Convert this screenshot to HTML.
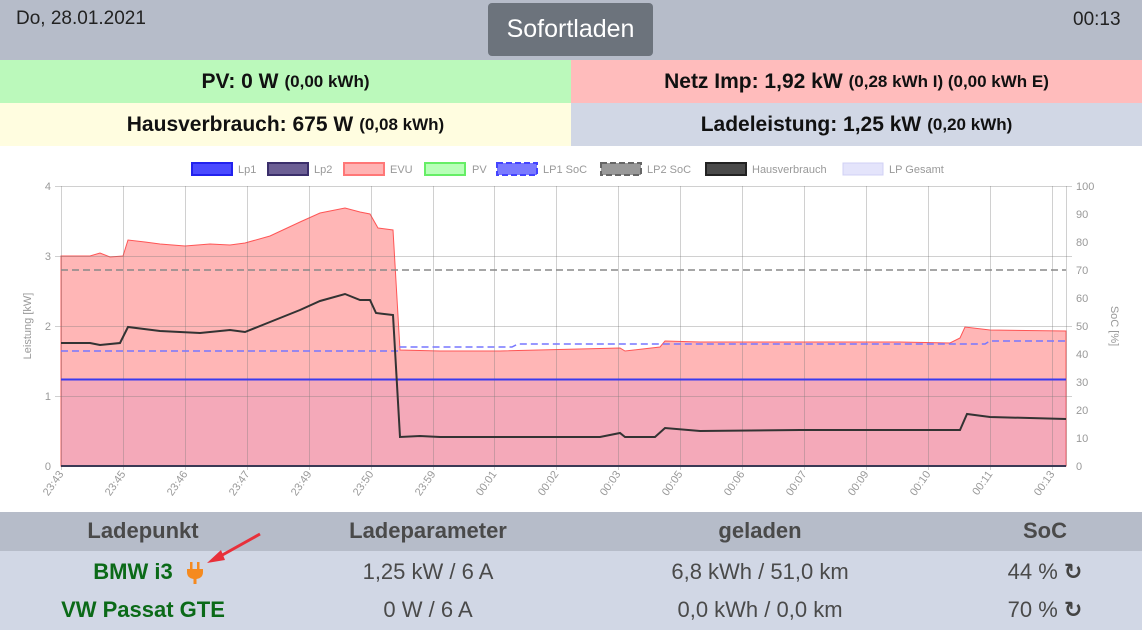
<!DOCTYPE html>
<html><head><meta charset="utf-8"><style>
body{margin:0;width:1142px;height:630px;overflow:hidden;font-family:"Liberation Sans","DejaVu Sans",sans-serif;background:#fff;position:relative}
.a{position:absolute;box-sizing:border-box}
.c{display:flex;align-items:center;justify-content:center;font-weight:bold;font-size:21px;color:#111}
.c small{font-size:17px;margin-left:6px}
.t{position:absolute;text-align:center;font-size:22px;color:#4a4a4a;transform:translateX(-50%);white-space:nowrap}
</style></head><body>
<div class="a" style="left:0;top:0;width:1142px;height:60px;background:#b6bcc9"></div>
<div class="a" style="left:16px;top:8px;font-size:19px;color:#222">Do, 28.01.2021</div>
<div class="a" style="left:1073px;top:9px;font-size:19px;color:#222">00:13</div>
<div class="a" style="left:488px;top:3px;width:165px;height:53px;background:#6c737c;border-radius:4px;color:#fff;font-size:25px;display:flex;align-items:center;justify-content:center">Sofortladen</div>
<div class="a c" style="left:0;top:60px;width:571px;height:43px;background:#bbf9bb">PV: 0 W<small>(0,00 kWh)</small></div>
<div class="a c" style="left:571px;top:60px;width:571px;height:43px;background:#ffbcbc">Netz Imp: 1,92 kW<small>(0,28 kWh I) (0,00 kWh E)</small></div>
<div class="a c" style="left:0;top:103px;width:571px;height:43px;background:#fffde0">Hausverbrauch: 675 W<small>(0,08 kWh)</small></div>
<div class="a c" style="left:571px;top:103px;width:571px;height:43px;background:#d1d7e5">Ladeleistung: 1,25 kW<small>(0,20 kWh)</small></div>

<svg class="a" style="left:0;top:146px" width="1142" height="366" viewBox="0 146 1142 366" font-family="Liberation Sans, sans-serif">
<g font-size="11" fill="#999">
<rect x="192" y="163" width="40" height="12" fill="#4a4aff" stroke="#2222ee" stroke-width="2"/><text x="238" y="173">Lp1</text>
<rect x="268" y="163" width="40" height="12" fill="#6c5f94" stroke="#3b2f6b" stroke-width="2"/><text x="314" y="173">Lp2</text>
<rect x="344" y="163" width="40" height="12" fill="#ffb3b3" stroke="#ff7777" stroke-width="2"/><text x="390" y="173">EVU</text>
<rect x="425" y="163" width="40" height="12" fill="#b8ffb8" stroke="#66ee66" stroke-width="2"/><text x="472" y="173">PV</text>
<rect x="497" y="163" width="40" height="12" fill="#7a7aff" stroke="#4444ff" stroke-width="2" stroke-dasharray="6,3"/><text x="543" y="173">LP1 SoC</text>
<rect x="601" y="163" width="40" height="12" fill="#999" stroke="#666" stroke-width="2" stroke-dasharray="6,3"/><text x="647" y="173">LP2 SoC</text>
<rect x="706" y="163" width="40" height="12" fill="#4a4a4a" stroke="#222" stroke-width="2"/><text x="752" y="173">Hausverbrauch</text>
<rect x="843" y="163" width="40" height="12" fill="#e4e4fb" stroke="#d0d0f5" stroke-width="1"/><text x="889" y="173">LP Gesamt</text>
</g>
<polygon fill="rgba(255,110,110,0.5)" stroke="#ff5555" stroke-width="1" points="61,466 61,256 90,256 100,253 110,257 123,256 128,240 145,242 160,244 185,246 210,244 230,245 245,243 270,236 300,222 320,213 345,208 360,212 370,214 378,228 393,230 400,350 440,351 500,351 620,348 625,351 660,347 665,341 700,342 800,342 900,342 950,343 960,338 965,327 990,330 1066,331 1066,466"/>
<rect x="61" y="379" width="1005" height="87" fill="rgba(200,120,200,0.2)"/>
<g stroke="rgba(120,120,120,0.35)" stroke-width="1">
<line x1="55" y1="186.5" x2="1072" y2="186.5"/><line x1="55" y1="256.5" x2="1072" y2="256.5"/><line x1="55" y1="326.5" x2="1072" y2="326.5"/><line x1="55" y1="396.5" x2="1072" y2="396.5"/>
<line x1="61.5" y1="186" x2="61.5" y2="470"/><line x1="123.5" y1="186" x2="123.5" y2="470"/><line x1="185.5" y1="186" x2="185.5" y2="470"/><line x1="247.5" y1="186" x2="247.5" y2="470"/><line x1="309.5" y1="186" x2="309.5" y2="470"/><line x1="371.5" y1="186" x2="371.5" y2="470"/><line x1="433.5" y1="186" x2="433.5" y2="470"/><line x1="494.5" y1="186" x2="494.5" y2="470"/><line x1="556.5" y1="186" x2="556.5" y2="470"/><line x1="618.5" y1="186" x2="618.5" y2="470"/><line x1="680.5" y1="186" x2="680.5" y2="470"/><line x1="742.5" y1="186" x2="742.5" y2="470"/><line x1="804.5" y1="186" x2="804.5" y2="470"/><line x1="866.5" y1="186" x2="866.5" y2="470"/><line x1="928.5" y1="186" x2="928.5" y2="470"/><line x1="990.5" y1="186" x2="990.5" y2="470"/><line x1="1052.5" y1="186" x2="1052.5" y2="470"/><line x1="1066.5" y1="186" x2="1066.5" y2="466"/>
</g>
<line x1="61" y1="379.5" x2="1066" y2="379.5" stroke="#3a3aee" stroke-width="2"/>
<line x1="61" y1="466" x2="1066" y2="466" stroke="#3b3a55" stroke-width="2"/>
<polyline fill="none" stroke="#7777ff" stroke-width="1.5" stroke-dasharray="7,4" points="61,351 398,351 400,347 512,347 518,344 985,344 990,341 1066,341"/>
<line x1="61" y1="270" x2="1066" y2="270" stroke="#888" stroke-width="1.5" stroke-dasharray="7,4"/>
<polyline fill="none" stroke="#333" stroke-width="2" points="61,343 90,343 100,345 120,343 128,327 160,331 200,333 230,330 245,332 270,322 300,310 320,301 345,294 360,300 370,300 376,313 393,315 400,437 420,436 440,437 500,437 600,437 620,433 625,437 655,437 665,428 700,431 800,430 900,430 950,430 960,430 967,414 990,417 1066,419"/>
<g font-size="11" fill="#999" text-anchor="end">
<text x="51" y="190">4</text><text x="51" y="260">3</text><text x="51" y="330">2</text><text x="51" y="400">1</text><text x="51" y="470">0</text>
</g>
<g font-size="11" fill="#999">
<text x="1076" y="190">100</text><text x="1076" y="218">90</text><text x="1076" y="246">80</text><text x="1076" y="274">70</text><text x="1076" y="302">60</text><text x="1076" y="330">50</text><text x="1076" y="358">40</text><text x="1076" y="386">30</text><text x="1076" y="414">20</text><text x="1076" y="442">10</text><text x="1076" y="470">0</text>
</g>
<text transform="translate(31,326) rotate(-90)" font-size="11" fill="#999" text-anchor="middle">Leistung [kW]</text>
<text transform="translate(1111,326) rotate(90)" font-size="11" fill="#999" text-anchor="middle">SoC [%]</text>
<g font-size="11" fill="#999" text-anchor="end">
<text transform="translate(64,474) rotate(-55)">23:43</text><text transform="translate(126,474) rotate(-55)">23:45</text><text transform="translate(188,474) rotate(-55)">23:46</text><text transform="translate(250,474) rotate(-55)">23:47</text><text transform="translate(312,474) rotate(-55)">23:49</text><text transform="translate(374,474) rotate(-55)">23:50</text><text transform="translate(436,474) rotate(-55)">23:59</text><text transform="translate(497,474) rotate(-55)">00:01</text><text transform="translate(559,474) rotate(-55)">00:02</text><text transform="translate(621,474) rotate(-55)">00:03</text><text transform="translate(683,474) rotate(-55)">00:05</text><text transform="translate(745,474) rotate(-55)">00:06</text><text transform="translate(807,474) rotate(-55)">00:07</text><text transform="translate(869,474) rotate(-55)">00:09</text><text transform="translate(931,474) rotate(-55)">00:10</text><text transform="translate(993,474) rotate(-55)">00:11</text><text transform="translate(1055,474) rotate(-55)">00:13</text>
</g>
</svg>

<div class="a" style="left:0;top:512px;width:1142px;height:39px;background:#b6bcc9"></div>
<div class="a" style="left:0;top:551px;width:1142px;height:79px;background:#d1d7e5"></div>
<div class="t" style="left:143px;top:518px;font-weight:bold">Ladepunkt</div>
<div class="t" style="left:428px;top:518px;font-weight:bold">Ladeparameter</div>
<div class="t" style="left:760px;top:518px;font-weight:bold">geladen</div>
<div class="t" style="left:1045px;top:518px;font-weight:bold">SoC</div>
<div class="t" style="left:133px;top:559px;font-weight:bold;color:#0b6a18">BMW i3</div>
<svg class="a" style="left:186px;top:561px" width="18" height="24"><rect x="4" y="1" width="2.5" height="7" fill="#f58a1f"/><rect x="11" y="1" width="2.5" height="7" fill="#f58a1f"/><path d="M1,8 H17 V11 Q17,17 10.5,18 V23 H7.5 V18 Q1,17 1,11 Z" fill="#f58a1f"/></svg>
<div class="t" style="left:143px;top:597px;font-weight:bold;color:#0b6a18">VW Passat GTE</div>
<div class="t" style="left:428px;top:559px">1,25 kW / 6 A</div>
<div class="t" style="left:428px;top:597px">0 W / 6 A</div>
<div class="t" style="left:760px;top:559px">6,8 kWh / 51,0 km</div>
<div class="t" style="left:760px;top:597px">0,0 kWh / 0,0 km</div>
<div class="t" style="left:1045px;top:559px">44 % <b style="color:#444">&#x21BB;</b></div>
<div class="t" style="left:1045px;top:597px">70 % <b style="color:#444">&#x21BB;</b></div>
<svg class="a" style="left:185px;top:530px" width="80" height="40"><line x1="75" y1="4" x2="32" y2="28" stroke="#e8303a" stroke-width="3"/><polygon points="22,33 36,20 40,30" fill="#e8303a"/></svg>
</body></html>
